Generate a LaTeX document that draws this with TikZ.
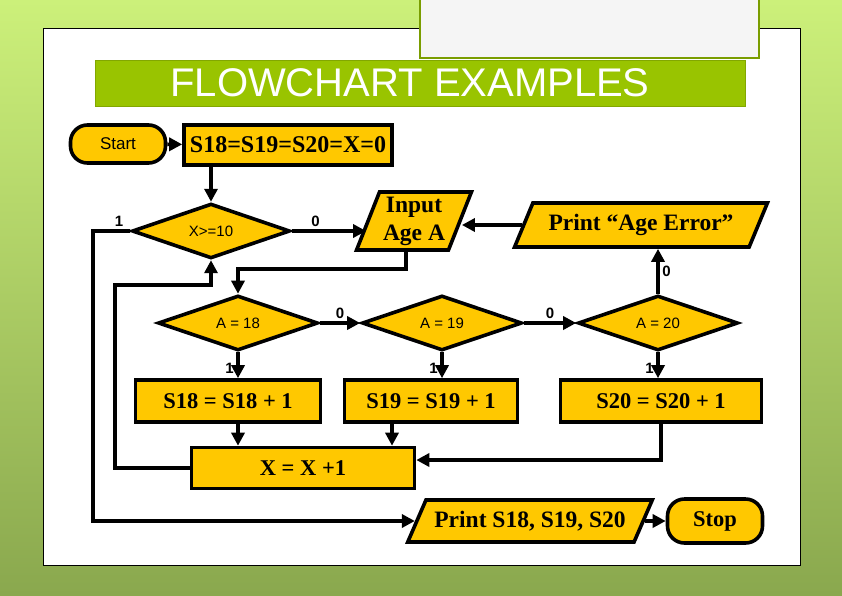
\documentclass[tikz,border=0pt]{standalone}
\usepackage{fontspec}
\setmainfont{Liberation Serif}
\setsansfont{Liberation Sans}
\usetikzlibrary{shapes.geometric,arrows.meta}
\definecolor{boxgold}{RGB}{255,200,0}
\definecolor{titlegreen}{RGB}{153,196,0}
\definecolor{bgtop}{RGB}{204,240,122}
\definecolor{bgbottom}{RGB}{138,168,78}

\begin{document}
\begin{tikzpicture}[x=1pt, y=1pt,
		line width=3.6pt,
		arr/.style={-{Triangle[length=13pt,width=13pt]}},
		block/.style={draw, fill=boxgold, rectangle, inner sep=0pt, font=\fontsize{22.5}{24}\selectfont\bfseries},
		term/.style={block, rounded corners=17pt},
		decide/.style={draw, fill=boxgold, diamond, inner sep=0pt, minimum width=160pt, minimum height=55pt, font=\sffamily\fontsize{15}{17}\selectfont},
		io/.style={block, trapezium, trapezium stretches=true, font=\fontsize{23.5}{28}\selectfont\bfseries},
		lbl/.style={font=\sffamily\bfseries\fontsize{15}{17}\selectfont, inner sep=2.5pt}]
		\useasboundingbox (0,0) rectangle (842,-595);
		
		\shade[top color=bgtop, bottom color=bgbottom] (0,0) rectangle (842,-595);
		\draw[fill=white, line width=0.8pt] (43,-28) rectangle (800,-565);
		\draw[fill=black!4, draw=titlegreen!80!black, line width=1.2pt] (420,1) rectangle (759,-58);
		\draw[fill=titlegreen, draw=titlegreen!85!black, line width=1pt] (95,-60) rectangle (745,-106);
		\node[text=white, font=\sffamily\fontsize{40}{42}\selectfont] (title) at (410,-83) {FLOWCHART EXAMPLES};
		
		\node[term, minimum width=95pt, minimum height=38pt, font=\sffamily\fontsize{17}{19}\selectfont] (start) at (118,-144) {Start};
		\node[block, minimum width=208pt, minimum height=40pt, font=\fontsize{24}{26}\selectfont\bfseries] (init) at (288,-145) {S18=S19=S20=X=0};
		\node[decide, minimum width=158pt, minimum height=53pt] (chk) at (211,-231) {X>=10};
		\node[io, trapezium left angle=67, trapezium right angle=113, minimum width=115pt, minimum height=58pt, align=center] (inp) at (414,-221) {Input\\Age A};
		\node[io, trapezium left angle=54, trapezium right angle=126, minimum width=253pt, minimum height=44pt] (err) at (641,-225) {Print “Age Error”};
		
		\node[decide] (a18) at (238,-323) {A = 18};
		\node[decide] (a19) at (442,-323) {A = 19};
		\node[decide] (a20) at (658,-323) {A = 20};
		
		\node[block, minimum width=185pt, minimum height=42pt] (s18) at (228,-401) {S18 = S18 + 1};
		\node[block, minimum width=173pt, minimum height=42pt] (s19) at (431,-401) {S19 = S19 + 1};
		\node[block, minimum width=201pt, minimum height=42pt] (s20) at (661,-401) {S20 = S20 + 1};
		\node[block, minimum width=223pt, minimum height=41pt] (incx) at (303,-468) {X = X +1};
		
		\node[io, trapezium left angle=50, trapezium right angle=130, minimum width=245pt, minimum height=42pt] (out) at (530,-521) {Print S18, S19, S20};
		\node[term, minimum width=95pt, minimum height=44pt] (stop) at (715,-521) {Stop};
		
		\coordinate (loopin) at (115,-285);
		\coordinate (loopout) at (93,-521);
		
		\draw[arr] (start) -- (init);
		\draw[arr] (init.south -| chk.north) -- (chk.north);
		\draw[arr] (chk.east) -- node[lbl, pos=0.32, above]{0} (inp.west |- chk.east);
		\draw[arr] (err.west) -- (err.west -| inp.east);
		\draw[arr] (a20.north) -- node[lbl, right]{0} (a20.north |- err.south);
		\draw[arr] ([xshift=-8pt]inp.south) -- ++(0,-17) -| (a18.north);
		\draw[arr] (incx.west) -| (loopin) -| (chk.south);
		\draw[arr] (chk.west) -| node[lbl, pos=0.15, above]{1} (loopout) -- (out.west);
		
		\draw[arr] (a18.east) -- node[lbl, above]{0} (a19.west);
		\draw[arr] (a19.east) -- node[lbl, above]{0} (a20.west);
		\draw[arr] (a18.south) -- node[lbl, left, pos=0.6]{1} (a18.south |- s18.north);
		\draw[arr] (a19.south) -- node[lbl, left, pos=0.6]{1} (a19.south |- s19.north);
		\draw[arr] (a20.south) -- node[lbl, left, pos=0.6]{1} (a20.south |- s20.north);
		
		\draw[arr] (s18.south -| a18.south) -- (incx.north -| a18.south);
		\draw[arr] ([xshift=-39pt]s19.south) -- ([xshift=-39pt]s19.south |- incx.north);
		\draw[arr] (s20.south) |- ([yshift=8pt]incx.east);
		\draw[arr] (out.east) -- (stop.west);
	\end{tikzpicture}
\end{document}
